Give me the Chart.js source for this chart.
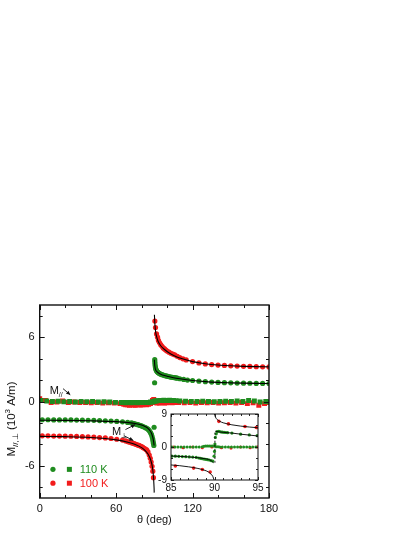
<!DOCTYPE html>
<html><head><meta charset="utf-8">
<script src="https://cdn.jsdelivr.net/npm/chart.js@4.4.1/dist/chart.umd.min.js"></script>
<style>
html,body{margin:0;padding:0;background:#fff;width:415px;height:537px;overflow:hidden;}
#wrap{position:relative;width:415px;height:537px;}
#main{position:absolute;left:0;top:0;}
#inset{position:absolute;left:140px;top:404px;}
</style></head><body>
<div id="wrap"><canvas id="main" width="415" height="537"></canvas><canvas id="inset" width="130" height="96"></canvas></div>
<script>
// ---------------- DATA (main panel) ----------------
const xTickLabels = [0, 60, 120, 180];
const yTickLabels = [-6, 0, 6];
const legendLabels = ['110 K', '100 K'];

// 100 K, M_perp, below 90 deg
const redPerpLowX = [2,6.5,11,15.5,20,24.5,29,33.5,38,42.5,47,51.5,56,60.5,65,67.5,69,70.5,72,73,74,75,76,77,78,79,80,81,82,83,84,85,86,86.8,87.5,88.2,88.8,89.3];
const redPerpLowY = [-3.2,-3.2,-3.22,-3.22,-3.23,-3.24,-3.26,-3.28,-3.3,-3.33,-3.36,-3.4,-3.45,-3.52,-3.6,-3.68,-3.74,-3.8,-3.85,-3.88,-3.92,-3.97,-4.02,-4.06,-4.1,-4.15,-4.2,-4.28,-4.36,-4.44,-4.52,-4.7,-5.0,-5.3,-5.65,-6.05,-6.5,-7.1];
// 100 K, M_perp, above 90 deg
const redPerpHighX = [90.4,90.9,91.7,92.5,93.2,94,95,96,97,98,99,100,101.5,103,104.5,106,108,110,112.5,115,120,125,130,135,140,145,150,155,160,165,170,175,180];
const redPerpHighY = [7.5,6.9,6.3,6.0,5.7,5.5,5.3,5.15,5.0,4.9,4.8,4.7,4.6,4.5,4.42,4.35,4.22,4.1,3.98,3.88,3.72,3.6,3.5,3.44,3.4,3.36,3.33,3.3,3.28,3.27,3.25,3.23,3.22];
// 110 K, M_perp, below 90 deg
const greenPerpLowX = [2,6.5,11,15.5,20,24.5,29,33.5,38,42.5,47,51.5,56,60.5,65,69,72,73,74,75,76,77,78,79,80,81,82,83,84,85,85.8,86.5,87.2,87.8,88.3,88.7,89.0,89.3,89.6,89.8];
const greenPerpLowY = [-1.7,-1.7,-1.72,-1.72,-1.72,-1.72,-1.73,-1.74,-1.75,-1.76,-1.78,-1.8,-1.83,-1.86,-1.9,-1.95,-2.0,-2.03,-2.06,-2.1,-2.13,-2.16,-2.2,-2.24,-2.28,-2.33,-2.38,-2.44,-2.5,-2.58,-2.68,-2.8,-2.95,-3.1,-3.3,-3.5,-3.7,-3.9,-4.1,-2.4];
// 110 K, M_perp, above 90 deg
const greenPerpHighX = [90.2,90.3,90.4,90.5,90.7,90.9,91.2,91.6,92,92.5,93,93.5,94,95,96,97,98,99,100,101,102,103,104,105,106,107,108,110,113,116,120,125,130,135,140,145,150,155,160,165,170,175,180];
const greenPerpHighY = [1.75,3.9,3.7,3.5,3.3,3.15,3.0,2.9,2.82,2.75,2.7,2.65,2.6,2.55,2.5,2.46,2.42,2.39,2.36,2.33,2.3,2.28,2.26,2.24,2.22,2.2,2.18,2.12,2.06,2.0,1.96,1.9,1.85,1.81,1.78,1.76,1.74,1.72,1.71,1.7,1.69,1.69,1.68];
// M_parallel (squares)
const greenParX = [1,5.5,10,14.5,19,23.5,28,32.5,37,41.5,46,50.5,55,59.5,64,66,67.5,69,70.5,72,73.5,75,76.5,78,79.5,81,82.5,84,85.5,87,88.5,89.5,90.5,91.5,93,94.5,96,97.5,99,100.5,102,103.5,105,107,110,114.5,119,123.5,128,132.5,137,141.5,146,150.5,155,159.5,164,168.5,173,177.5,180];
const greenParY = [0.1,0.05,0,0.02,-0.02,0,-0.05,0,-0.02,0,-0.05,-0.03,-0.05,-0.08,-0.1,-0.1,-0.12,-0.1,-0.1,-0.12,-0.1,-0.1,-0.12,-0.1,-0.08,-0.1,-0.1,-0.08,-0.1,-0.05,-0.05,0.0,0.05,0.05,0.08,0.1,0.1,0.12,0.1,0.1,0.12,0.1,0.1,0.08,0.05,0.02,0,0,0.02,0,-0.02,0,0.02,0,0.05,0,0.1,0.05,-0.05,0,-0.02];
const redParX = [0,4.5,9,13.5,18,22.5,27,31.5,36,40.5,45,49.5,54,58.5,63,66,67.5,69,70.5,72,73.5,75,76.5,78,79.5,81,82.5,84,85.5,87,88.5,89.5,90.5,92,94,96,98,100,102,104,106,109,113.5,118,122.5,127,131.5,136,140.5,145,149.5,154,158.5,163,167.5,172,176.5,180];
const redParY = [0.25,0.1,-0.1,-0.05,0.05,-0.1,-0.05,-0.1,-0.1,-0.12,-0.1,-0.15,-0.12,-0.15,-0.2,-0.25,-0.3,-0.3,-0.35,-0.3,-0.32,-0.35,-0.3,-0.3,-0.32,-0.3,-0.28,-0.3,-0.25,-0.2,0.1,0.2,-0.1,-0.15,-0.15,-0.12,-0.15,-0.12,-0.1,-0.12,-0.1,-0.1,-0.12,-0.1,-0.15,-0.1,-0.12,-0.1,-0.15,-0.12,-0.1,-0.15,-0.1,-0.2,-0.12,-0.35,-0.2,-0.1];
// fit lines
const redFitLowX = [0,20,40,60,70,75,80,83,85,86.5,87.5,88.3,88.9,89.3,89.6,89.8,89.9];
const redFitLowY = [-3.25,-3.28,-3.36,-3.58,-3.82,-4.0,-4.3,-4.6,-4.9,-5.25,-5.6,-6.0,-6.5,-7.0,-7.6,-8.1,-8.5];
const redFitHighX = [90.05,90.2,90.5,91,92,93,95,98,102,106,110,120,130,140,150,160,170,180];
const redFitHighY = [8.1,7.7,7.1,6.5,5.95,5.6,5.2,4.85,4.5,4.25,4.05,3.72,3.52,3.4,3.33,3.28,3.25,3.23];
const greenFitLowX = [0,20,40,60,70,75,80,83,85,86.5,87.5,88.3,88.9,89.3,89.6,89.8];
const greenFitLowY = [-1.75,-1.76,-1.8,-1.88,-1.97,-2.05,-2.2,-2.35,-2.5,-2.7,-2.9,-3.15,-3.4,-3.65,-3.9,-4.1];
const greenFitHighX = [90.05,90.2,90.5,91,92,93,95,98,100,105,110,120,130,140,150,160,170,180];
const greenFitHighY = [3.9,3.5,3.2,2.95,2.78,2.68,2.55,2.42,2.36,2.22,2.12,1.96,1.85,1.78,1.74,1.71,1.69,1.68];

// ---------------- DATA (inset) ----------------
const insetXTickLabels = [85, 90, 95];
const insetYTickLabels = [-9, 0, 9];
const inGreenZeroX = [85.1,85.45,85.8,86.15,86.5,86.85,87.2,87.55,87.9,88.25,88.6,88.8,89.0,89.2,89.4,89.6,89.8,90.0,90.2,90.4,90.6,90.9,91.25,91.6,91.95,92.3,92.65,93.0,93.35,93.7,94.05,94.4,94.75];
const inGreenZeroY = [0,0,0,0,0,0,0,0,0,0,0.1,0.2,0.25,0.3,0.3,0.3,0.25,0.2,0.1,0.05,0,0,0,0,0,0,0,0,0,0,0,0,0];
const inRedZeroX = [85.3,86.4,87.5,88.6,89.7,90.8,91.9,93.0,94.1,94.9];
const inRedZeroY = [0,-0.2,0,-0.2,0,-0.2,-0.3,0,-0.2,0];
const inGreenLowX = [85.1,85.5,85.9,86.3,86.7,87.1,87.5,87.9,88.2,88.4,88.6,88.8,89.0,89.2,89.4,89.6,89.8];
const inGreenLowY = [-2.5,-2.5,-2.55,-2.6,-2.65,-2.7,-2.75,-2.85,-3.0,-3.1,-3.2,-3.3,-3.35,-3.45,-3.55,-3.7,-3.85];
const inGreenHighX = [89.95,90.0,90.05,90.1,90.2,90.3,90.5,90.7,90.9,91.1,91.3,91.5,92.0,93.0,94.0,94.9];
const inGreenHighY = [-2.5,-1.2,0.8,2.6,3.6,4.2,4.3,4.15,4.05,4.0,3.95,3.9,3.8,3.5,3.3,3.1];
const inRedLowX = [85.5,87.6,88.6,89.5];
const inRedLowY = [-5.2,-5.75,-6.15,-6.8];
const inRedHighX = [90.5,91.6,93.5,94.8];
const inRedHighY = [7.0,6.3,5.6,5.3];
const inRedFitLowX = [85,86,87,88,88.8,89.3,89.6,89.8,89.95];
const inRedFitLowY = [-4.9,-5.1,-5.4,-5.8,-6.3,-6.8,-7.4,-8.0,-9];
const inRedFitHighX = [89.98,90.1,90.3,90.6,91,91.5,92,93,94,95];
const inRedFitHighY = [9,8.2,7.5,7.0,6.6,6.3,6.05,5.7,5.45,5.25];
const inGreenFitLowX = [85,86,87,88,88.8,89.3,89.6,89.9];
const inGreenFitLowY = [-2.45,-2.55,-2.7,-2.9,-3.15,-3.4,-3.7,-4.3];
const inGreenFitHighX = [90.1,90.3,90.6,91,92,93,94,95];
const inGreenFitHighY = [4.3,4.2,4.1,4.0,3.8,3.5,3.25,3.0];
const inJumpX = [90.05, 90.05];
const inJumpY = [-4.3, 4.2];

// ---------------- rendering ----------------
const FONT = '"Liberation Sans", Arial, sans-serif';
const RED = '#f21c1c', GREEN = '#1f8c1f', INK = '#111';
function pts(xs, ys) { return xs.map((x, i) => ({x: x, y: ys[i]})); }
function scatterDs(xs, ys, color, style, r) {
  return {data: pts(xs, ys), showLine: false, pointStyle: style, pointRadius: r,
    pointBackgroundColor: color, pointBorderColor: color, pointBorderWidth: 0, pointHoverRadius: r};
}
function lineDs(xs, ys, w, dash) {
  return {data: pts(xs, ys), showLine: true, borderColor: '#000', borderWidth: w, pointRadius: 0,
    borderDash: dash || [], cubicInterpolationMode: 'monotone', fill: false};
}

const frameTicks = {
  id: 'frameTicks',
  beforeDatasetsDraw(chart, args, o) {
    if (!o.white) return;
    const a = chart.chartArea, ctx = chart.ctx;
    ctx.save(); ctx.fillStyle = '#fff';
    ctx.fillRect(a.left, a.top, a.right - a.left, a.bottom - a.top);
    ctx.restore();
  },
  afterDatasetsDraw(chart, args, o) {
    const {ctx, chartArea: a} = chart;
    const sx = chart.scales.x, sy = chart.scales.y;
    ctx.save();
    ctx.strokeStyle = INK;
    ctx.lineWidth = o.tw;
    ctx.beginPath();
    const isMaj = (v, m, base) => Math.abs((v - base) / m - Math.round((v - base) / m)) < 1e-6;
    for (let v = o.xMin; v <= o.xMax + 1e-9; v += o.xMinor) {
      const L = isMaj(v, o.xMajor, o.xMin) ? o.maj : o.min;
      const p = Math.round(sx.getPixelForValue(v)) + 0.5;
      ctx.moveTo(p, a.bottom); ctx.lineTo(p, a.bottom - L);
      ctx.moveTo(p, a.top); ctx.lineTo(p, a.top + L);
    }
    for (let v = o.yMin; v <= o.yMax + 1e-9; v += o.yMinor) {
      const L = isMaj(v, o.yMajor, 0) ? o.maj : o.min;
      const p = Math.round(sy.getPixelForValue(v)) + 0.5;
      ctx.moveTo(a.left, p); ctx.lineTo(a.left + L, p);
      ctx.moveTo(a.right, p); ctx.lineTo(a.right - L, p);
    }
    ctx.stroke();
    ctx.lineWidth = o.fw;
    ctx.strokeRect(a.left, a.top, a.right - a.left, a.bottom - a.top);
    ctx.restore();
  }
};

function arrow(ctx, x1, y1, x2, y2) {
  ctx.beginPath(); ctx.moveTo(x1, y1); ctx.lineTo(x2, y2); ctx.stroke();
  const ang = Math.atan2(y2 - y1, x2 - x1), L = 4.5, W = 0.45;
  ctx.beginPath();
  ctx.moveTo(x2, y2);
  ctx.lineTo(x2 - L * Math.cos(ang - W), y2 - L * Math.sin(ang - W));
  ctx.lineTo(x2 - L * Math.cos(ang + W), y2 - L * Math.sin(ang + W));
  ctx.closePath(); ctx.fill();
}

const decor = {
  id: 'decor',
  afterDraw(chart) {
    const {ctx, chartArea: a} = chart;
    const sx = chart.scales.x, sy = chart.scales.y;
    const X = v => sx.getPixelForValue(v), Y = v => sy.getPixelForValue(v);
    ctx.save();
    ctx.fillStyle = INK; ctx.strokeStyle = INK; ctx.lineWidth = 0.9;
    // x title
    ctx.font = '11px ' + FONT; ctx.textAlign = 'center'; ctx.textBaseline = 'middle';
    ctx.fillText('\u03B8 (deg)', (a.left + a.right) / 2, a.bottom + 22);
    // y title (rotated)
    ctx.save();
    ctx.translate(a.left - 29, 419);
    ctx.rotate(-Math.PI / 2);
    ctx.textAlign = 'left'; ctx.textBaseline = 'alphabetic';
    const big = '11.5px ' + FONT, small = '8px ' + FONT;
    const segs = [['M', big, 0], ['//,\u22A5', small, 3], [' (10', big, 0], ['3', small, -4.5], [' A/m)', big, 0]];
    let tot = 0;
    segs.forEach(s => { ctx.font = s[1]; tot += ctx.measureText(s[0]).width; });
    let cx = -tot / 2;
    segs.forEach(s => { ctx.font = s[1]; ctx.fillText(s[0], cx, 4 + s[2]); cx += ctx.measureText(s[0]).width; });
    ctx.restore();
    // M_parallel label
    ctx.textAlign = 'left'; ctx.textBaseline = 'alphabetic';
    ctx.font = '11px ' + FONT;
    let px = X(7.8), py = Y(0.66);
    ctx.fillText('M', px, py);
    let w = ctx.measureText('M').width;
    ctx.font = '7px ' + FONT; ctx.fillText('//', px + w, py + 2.5);
    arrow(ctx, X(18.3), Y(1.2), X(24), Y(0.62));
    // M_perp label
    ctx.font = '11px ' + FONT;
    px = X(56.8); py = Y(-3.09);
    ctx.fillText('M', px, py);
    w = ctx.measureText('M').width;
    ctx.font = '7px ' + FONT; ctx.fillText('\u22A5', px + w, py + 3);
    arrow(ctx, X(67.3), Y(-2.62), X(75), Y(-2.15));
    arrow(ctx, X(66.3), Y(-3.2), X(73.5), Y(-3.64));
    // legend
    const rows = [[GREEN, -6.33], [RED, -7.62]];
    rows.forEach((r, i) => {
      ctx.fillStyle = r[0];
      ctx.beginPath(); ctx.arc(X(10.4), Y(r[1]), 2.6, 0, Math.PI * 2); ctx.fill();
      ctx.fillRect(X(23.3) - 2.5, Y(r[1]) - 2.5, 5, 5);
      ctx.font = '11px ' + FONT; ctx.textBaseline = 'middle';
      ctx.fillText(legendLabels[i], X(31.4), Y(r[1]) + 0.5);
    });
    ctx.restore();
  }
};

const mainDatasets = [
  lineDs(redFitLowX, redFitLowY, 1.1),
  lineDs(redFitHighX, redFitHighY, 1.1),
  lineDs(greenFitLowX, greenFitLowY, 1.1),
  lineDs(greenFitHighX, greenFitHighY, 1.1),
  scatterDs(greenPerpLowX, greenPerpLowY, GREEN, 'circle', 2.6),
  scatterDs(greenPerpHighX, greenPerpHighY, GREEN, 'circle', 2.6),
  scatterDs(redPerpLowX, redPerpLowY, RED, 'circle', 2.6),
  scatterDs(redPerpHighX, redPerpHighY, RED, 'circle', 2.6),
  scatterDs(greenParX, greenParY, GREEN, 'rect', 3.5),
  scatterDs(redParX, redParY, RED, 'rect', 3.5)
];

new Chart(document.getElementById('main'), {
  type: 'scatter',
  data: {datasets: mainDatasets},
  options: {
    responsive: false, animation: false, devicePixelRatio: 1,
    layout: {padding: {left: 0, top: 305, right: 146, bottom: 0}},
    plugins: {legend: {display: false}, tooltip: {enabled: false},
      frameTicks: {xMin: 0, xMax: 180, xMinor: 20, xMajor: 60, yMin: -8, yMax: 8, yMinor: 2, yMajor: 6, maj: 5, min: 3, tw: 1, fw: 1.4}},
    scales: {
      x: {type: 'linear', min: 0, max: 180,
        grid: {display: false, drawTicks: false}, border: {display: false},
        ticks: {font: {family: FONT, size: 11}, color: INK, padding: 4, maxRotation: 0},
        afterBuildTicks: s => { s.ticks = xTickLabels.map(v => ({value: v})); },
        afterFit: s => { s.height = 39; }},
      y: {type: 'linear', min: -9, max: 9,
        grid: {display: false, drawTicks: false}, border: {display: false},
        ticks: {font: {family: FONT, size: 11}, color: INK, padding: 5},
        afterBuildTicks: s => { s.ticks = yTickLabels.map(v => ({value: v})); },
        afterFit: s => { s.width = 39.7; }}
    }
  },
  plugins: [frameTicks, decor]
});

const insetDatasets = [
  lineDs(inRedFitLowX, inRedFitLowY, 0.9),
  lineDs(inRedFitHighX, inRedFitHighY, 0.9),
  lineDs(inGreenFitLowX, inGreenFitLowY, 0.9),
  lineDs(inGreenFitHighX, inGreenFitHighY, 0.9),
  lineDs(inJumpX, inJumpY, 0.9, [2, 2]),
  scatterDs(inRedLowX, inRedLowY, RED, 'circle', 1.8),
  scatterDs(inRedHighX, inRedHighY, RED, 'circle', 1.8),
  scatterDs(inGreenLowX, inGreenLowY, GREEN, 'circle', 1.6),
  scatterDs(inGreenHighX, inGreenHighY, GREEN, 'circle', 1.6),
  scatterDs(inGreenZeroX, inGreenZeroY, GREEN, 'circle', 1.5),
  scatterDs(inRedZeroX, inRedZeroY, RED, 'circle', 1.6)
];

new Chart(document.getElementById('inset'), {
  type: 'scatter',
  data: {datasets: insetDatasets},
  options: {
    responsive: false, animation: false, devicePixelRatio: 1,
    layout: {padding: {left: 0, top: 10, right: 12, bottom: 0}},
    plugins: {legend: {display: false}, tooltip: {enabled: false},
      frameTicks: {white: true, xMin: 85, xMax: 95, xMinor: 1, xMajor: 5, yMin: -9, yMax: 9, yMinor: 3, yMajor: 9, maj: 3, min: 2, tw: 0.9, fw: 1}},
    scales: {
      x: {type: 'linear', min: 85, max: 95,
        grid: {display: false, drawTicks: false}, border: {display: false},
        ticks: {font: {family: FONT, size: 10}, color: INK, padding: 2, maxRotation: 0},
        afterBuildTicks: s => { s.ticks = insetXTickLabels.map(v => ({value: v})); },
        afterFit: s => { s.height = 20; }},
      y: {type: 'linear', min: -9, max: 9,
        grid: {display: false, drawTicks: false}, border: {display: false},
        ticks: {font: {family: FONT, size: 10}, color: INK, padding: 4},
        afterBuildTicks: s => { s.ticks = insetYTickLabels.map(v => ({value: v})); },
        afterFit: s => { s.width = 31; }}
    }
  },
  plugins: [frameTicks]
});
</script>
</body></html>
